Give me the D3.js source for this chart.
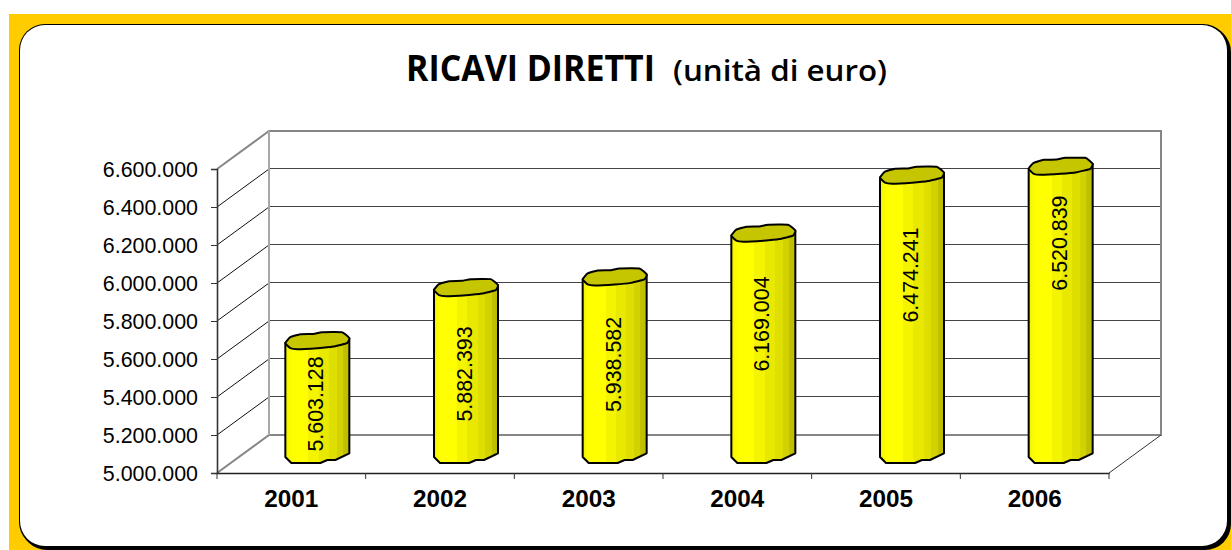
<!DOCTYPE html>
<html><head><meta charset="utf-8">
<script src="https://cdnjs.cloudflare.com/ajax/libs/d3/7.8.5/d3.min.js"></script>
<style>html,body{margin:0;padding:0;background:#fff;overflow:hidden}svg{display:block}
text{font-family:"Liberation Sans",Arial,sans-serif;fill:#000}
text.title{font-family:"Open Sans","Noto Sans",sans-serif;font-weight:600}
text.main{font-weight:700}</style></head><body>
<svg id="c" width="1231" height="550"></svg>
<script>
const years = ["2001","2002","2003","2004","2005","2006"];
const ricavi = [5603128,5882393,5938582,6169004,6474241,6520839];
const labelCentreValues = [5363000,5521000,5571000,5784000,6042000,6210000];
const yTicks = [5000000,5200000,5400000,5600000,5800000,6000000,6200000,6400000,6600000];
const titleMain = "RICAVI DIRETTI";
const titleSub = "(unità di euro)";

const svg = d3.select("#c");
const fmt = v => d3.format(",")(v).replace(/,/g,".");

const x = d3.scaleBand().domain(years).range([217,1109]);
const y = d3.scaleLinear().domain([5000000,6600000]).range([473,169]);
const dx = 52, dy = -38;

// background
svg.append("rect").attr("x",9).attr("y",14).attr("width",1222).attr("height",536).attr("fill","#ffcc00");
svg.append("path").attr("fill","#000").attr("d",roundPath(21,26,1231,550,26));
svg.append("path").attr("fill","#000").attr("d",roundPath(19,24,1229,548,26));
svg.append("path").attr("fill","#fff").attr("d",roundPath(20,25,1227,546,25));
function roundPath(x0,y0,x1,y1,r){
  return `M${x0+r},${y0}H${x1-r}A${r},${r} 0 0 1 ${x1},${y0+r}V${y1-r}A${r},${r} 0 0 1 ${x1-r},${y1}H${x0+r}A${r},${r} 0 0 1 ${x0},${y1-r}V${y0+r}A${r},${r} 0 0 1 ${x0+r},${y0}Z`;
}

// gradient
const defs = svg.append("defs");
const g = defs.append("linearGradient").attr("id","cyl").attr("x1","0").attr("x2","1").attr("y1","0").attr("y2","0");
const bands = [[0,"#eeee00"],[.06,"#fbfb00"],[.12,"#ffff00"],[.36,"#ffff00"],[.36,"#f4f400"],[.52,"#f4f400"],[.52,"#e8e800"],[.68,"#e8e800"],[.68,"#dede00"],[.8,"#dede00"],[.8,"#d2d200"],[.9,"#d2d200"],[.9,"#c2c200"],[1,"#bcbc00"]];
bands.forEach(b=>g.append("stop").attr("offset",b[0]).attr("stop-color",b[1]));

const plot = svg.append("g");
const [xL,xR] = x.range();
const y0 = y(5000000), yTop = y(6600000);

// back wall
plot.selectAll("line.grid").data(yTicks.slice(1,-1)).join("line").attr("class","grid")
  .attr("x1",xL+dx).attr("x2",xR+dx).attr("y1",d=>y(d)+dy-0.5).attr("y2",d=>y(d)+dy-0.5)
  .attr("stroke","#444").attr("stroke-width",1.2);
// side wall diagonals
plot.selectAll("line.side").data(yTicks.slice(1,-1)).join("line").attr("class","side")
  .attr("x1",xL).attr("y1",d=>y(d)).attr("x2",xL+dx).attr("y2",d=>y(d)+dy)
  .attr("stroke","#111").attr("stroke-width",1);
const gray = "#868686";
const poly = (pts,c,w)=>plot.append("path").attr("d",d3.line()(pts)).attr("fill","none").attr("stroke",c).attr("stroke-width",w);
poly([[xL,yTop],[xL+dx,yTop+dy],[xR+dx,yTop+dy],[xR+dx,y0+dy],[xL+dx,y0+dy],[xL,y0]],gray,2);
poly([[xL+dx,yTop+dy],[xL+dx,y0+dy]],"#a8a8a8",2);
poly([[xR,y0],[xR+dx,y0+dy]],"#333",1);

// axes
const axY = plot.append("g").attr("transform",`translate(${xL},0)`)
  .call(d3.axisLeft(y).tickValues(yTicks).tickFormat(fmt).tickSize(6).tickPadding(13));
axY.select(".domain").attr("stroke","#333").attr("stroke-width",1.6);
axY.selectAll(".tick line").attr("stroke","#333");
axY.selectAll("text").attr("font-size",21.4).attr("dy","0.34em");

const axX = plot.append("g").attr("transform",`translate(0,${y0})`)
  .call(d3.axisBottom(x).tickSizeInner(0).tickSizeOuter(0).tickPadding(17));
axX.select(".domain").attr("stroke","#222").attr("stroke-width",1.3);
axX.selectAll("text").attr("font-size",24.3).attr("font-weight","bold").attr("dy","0.72em");
plot.selectAll("line.xt").data(d3.range(years.length+1)).join("line").attr("class","xt")
  .attr("x1",i=>xL+i*x.step()).attr("x2",i=>xL+i*x.step()).attr("y1",y0).attr("y2",y0+6)
  .attr("stroke","#333").attr("stroke-width",1);

// cylinders
const topShape = [[-32,3.6],[-27,-2.2],[-17,-5.2],[-4,-5.5],[4.7,-7.2],[24.7,-7.2],[32,-1.2],[29.7,3.8],[16,7.2],[0,8.8],[-20,9.8],[-27,8.8]];
const baseFront = [[32,-0.7],[18,6],[10,6],[3,9],[-26,9],[-32,3]];
const line = d3.line();
const cyl = plot.selectAll("g.cyl").data(years.map((k,i)=>({k,v:ricavi[i],lab:labelCentreValues[i]}))).join("g").attr("class","cyl")
  .attr("transform",d=>`translate(${x(d.k)+x.bandwidth()/2+dx/2},0)`);
const depth = dy/2;
cyl.append("path").attr("fill","url(#cyl)").attr("stroke","#000").attr("stroke-width",2).attr("stroke-linejoin","round")
  .attr("d",d=>{
    const ty=y(d.v)+depth, by=y0+depth;
    const pts=[[-32,ty+3.6],[32,ty-1.2]].concat(baseFront.map(p=>[p[0],by+p[1]]));
    return line(pts)+"Z";
  });
cyl.append("path").attr("fill","#c6c600").attr("stroke","#000").attr("stroke-width",2).attr("stroke-linejoin","round")
  .attr("d",d=>line.curve(d3.curveCardinalClosed.tension(0.6))(topShape.map(p=>[p[0],y(d.v)+depth+p[1]])));
line.curve(d3.curveLinear);
cyl.append("text").text(d=>fmt(d.v)).attr("font-size",21.4).attr("text-anchor","middle")
  .attr("transform",d=>`translate(6,${y(d.lab)}) rotate(-90)`);

// title
svg.append("text").attr("class","title main").text(titleMain).attr("x",406).attr("y",81).attr("font-size",36).attr("textLength",249).attr("lengthAdjust","spacingAndGlyphs");
svg.append("text").attr("class","title").text(titleSub).attr("x",673).attr("y",81).attr("font-size",28).attr("textLength",214).attr("lengthAdjust","spacingAndGlyphs");
</script></body></html>
